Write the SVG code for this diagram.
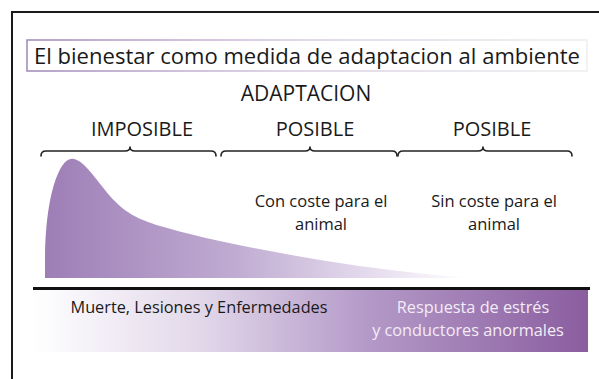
<svg xmlns="http://www.w3.org/2000/svg" width="599" height="379" viewBox="0 0 599 379">
<style>
text{font-family:"Open Sans","Noto Sans","Liberation Sans",sans-serif;fill:#1a1a1a}
.brace{fill:none;stroke:#222;stroke-width:1.6;stroke-linecap:round;stroke-linejoin:round}
.lbl{font-size:20px;text-anchor:middle}
.sub{font-size:16.5px;text-anchor:middle}
.band{font-size:16.3px;text-anchor:middle}
</style>
<defs>
<linearGradient id="titleStroke" x1="27" y1="0" x2="587" y2="0" gradientUnits="userSpaceOnUse">
<stop offset="0" stop-color="#9f86b6"/><stop offset="0.5" stop-color="#d8cde2"/><stop offset="1" stop-color="#eeeeee"/>
</linearGradient>
<linearGradient id="curveFill" x1="45" y1="0" x2="470" y2="0" gradientUnits="userSpaceOnUse">
<stop offset="0" stop-color="#9d7eb6"/><stop offset="0.45" stop-color="#c0acd2"/><stop offset="0.75" stop-color="#e3d9ec"/><stop offset="1" stop-color="#ffffff"/>
</linearGradient>
<linearGradient id="bandFill" x1="33" y1="0" x2="588" y2="0" gradientUnits="userSpaceOnUse">
<stop offset="0" stop-color="#ffffff"/><stop offset="0.3" stop-color="#e2d8ea"/><stop offset="0.6" stop-color="#b49ac8"/><stop offset="1" stop-color="#8a5d9f"/>
</linearGradient>
</defs>
<rect x="0" y="0" width="599" height="379" fill="#ffffff"/>
<g id="frame">
<path d="M12,379 L12,12 L599,12" fill="none" stroke="#1a1a1a" stroke-width="2"/>
</g>
<g id="title">
<rect x="27" y="40" width="560" height="31" fill="#ffffff" stroke="url(#titleStroke)" stroke-width="1.5"/>
<text x="307" y="64" font-size="21.5" text-anchor="middle" textLength="546" lengthAdjust="spacingAndGlyphs">El bienestar como medida de adaptacion al ambiente</text>
</g>
<g id="adaptacion">
<text x="306" y="101" font-size="21" text-anchor="middle">ADAPTACION</text>
</g>
<g id="imposible">
<text class="lbl" x="142" y="136">IMPOSIBLE</text>
<path class="brace" d="M41,156 Q41,151 46,151 L125,151 Q130,151 130,147 Q130,151 135,151 L211,151 Q216,151 216,156"/>
</g>
<g id="posible1">
<text class="lbl" x="315" y="136">POSIBLE</text>
<path class="brace" d="M221,156 Q221,151 226,151 L305,151 Q310,151 310,147 Q310,151 315,151 L392,151 Q397,151 397,156"/>
<text class="sub" x="321" y="207">Con coste para el</text>
<text class="sub" x="321" y="230">animal</text>
</g>
<g id="posible2">
<text class="lbl" x="492" y="136">POSIBLE</text>
<path class="brace" d="M398,156 Q398,151 403,151 L478,151 Q483,151 483,147 Q483,151 488,151 L567,151 Q572,151 572,156"/>
<text class="sub" x="494" y="207">Sin coste para el</text>
<text class="sub" x="494" y="230">animal</text>
</g>
<g id="curve">
<path d="M45,278 L45,262 C45,215 52,182 62,166 C66,160 70,158 74,159 C84,161 95,178 110,196 C124,212 137,219 160,226 C200,238 260,250 320,260 C370,268 420,274 470,278 Z" fill="url(#curveFill)"/>
</g>
<g id="band">
<rect x="33" y="290" width="555" height="62" fill="url(#bandFill)"/>
<text class="band" x="199" y="313">Muerte, Lesiones y Enfermedades</text>
<text class="band" x="473" y="313" style="fill:#f3ecf7">Respuesta de estrés</text>
<text class="band" x="468" y="336" style="fill:#f3ecf7">y conductores anormales</text>
</g>
<g id="connectors">
<line x1="33" y1="288.5" x2="590" y2="288.5" stroke="#111" stroke-width="3"/>
</g>
</svg>
